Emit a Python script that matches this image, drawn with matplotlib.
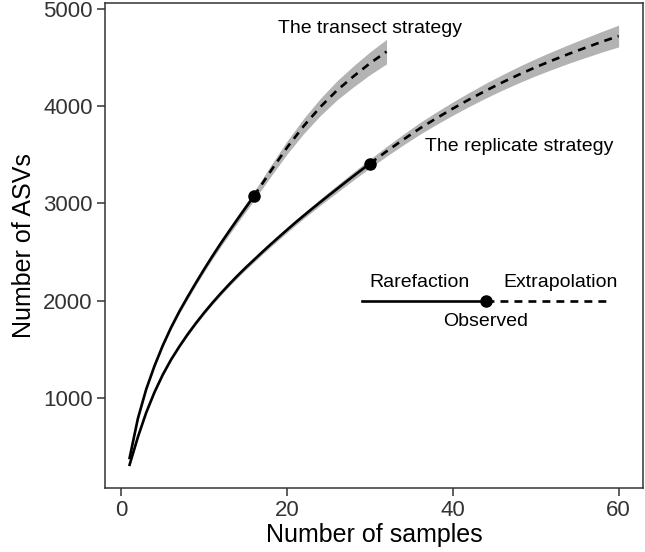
import matplotlib
matplotlib.use("Agg")
import matplotlib.pyplot as plt

plt.rcParams["font.family"] = ["Liberation Sans", "DejaVu Sans"]

# transect strategy (16 samples observed, extrapolated to 32)
tr_x_rare = list(range(1, 17))
tr_y_rare = [385, 790, 1090, 1330, 1540, 1725, 1890, 2040, 2185, 2325, 2460,
             2590, 2714, 2836, 2956, 3075]
tr_ci_rare = [10, 12, 14, 16, 18, 20, 22, 24, 26, 28, 30, 33, 36, 39, 42, 45]
tr_x_ext = [16, 18, 20, 22, 24, 26, 28, 30, 32]
tr_y_ext = [3075, 3330, 3575, 3795, 3990, 4160, 4305, 4440, 4560]
tr_ci_ext = [45, 56, 67, 78, 88, 98, 108, 117, 126]

# replicate strategy (30 samples observed, extrapolated to 60)
rp_x_rare = list(range(1, 31))
rp_y_rare = [315, 600, 850, 1060, 1240, 1395, 1530, 1655, 1770, 1878, 1980,
             2076, 2168, 2256, 2340, 2420, 2500, 2578, 2654, 2729, 2803, 2874,
             2944, 3013, 3081, 3148, 3215, 3281, 3346, 3410]
rp_ci_rare = [8, 9, 10, 11, 12, 13, 14, 15, 16, 17, 18, 19, 20, 21, 22, 23,
              24, 25, 26, 27, 28, 29, 31, 33, 35, 37, 39, 41, 43, 45]
rp_x_ext = [30, 32, 34, 36, 38, 40, 42, 44, 46, 48, 50, 52, 54, 56, 58, 60]
rp_y_ext = [3410, 3535, 3655, 3770, 3875, 3975, 4070, 4160, 4245, 4325, 4400,
            4470, 4537, 4600, 4662, 4720]
rp_ci_ext = [45, 50, 55, 60, 64, 68, 72, 76, 80, 84, 88, 92, 96, 101, 106, 112]

# hand-made key inside the panel
key_x = [29, 44, 59]
key_y = 2000


def main():
    fig = plt.figure(figsize=(6.45, 5.52), dpi=100)
    ax = fig.add_axes([0.163, 0.116, 0.834, 0.879])

    band = "#b3b3b3"
    lw = 1.9
    dash = (3.0, 2.3)
    curves = [
        (tr_x_rare, tr_y_rare, tr_ci_rare, tr_x_ext, tr_y_ext, tr_ci_ext),
        (rp_x_rare, rp_y_rare, rp_ci_rare, rp_x_ext, rp_y_ext, rp_ci_ext),
    ]
    for xr, yr, cr, xe, ye, ce in curves:
        ax.fill_between(xr, [y - c for y, c in zip(yr, cr)],
                        [y + c for y, c in zip(yr, cr)], color=band, lw=0)
        ax.fill_between(xe, [y - c for y, c in zip(ye, ce)],
                        [y + c for y, c in zip(ye, ce)], color=band, lw=0)
        ax.plot(xr, yr, color="black", lw=lw, solid_joinstyle="round")
        ax.plot(xe, ye, color="black", lw=lw, dashes=dash)
        ax.plot(xr[-1], yr[-1], "o", color="black", ms=8)

    ax.text(30, 4800, "The transect strategy", ha="center", va="center", fontsize=14)
    ax.text(48, 3590, "The replicate strategy", ha="center", va="center", fontsize=14)

    # key
    ax.plot(key_x[:2], [key_y, key_y], color="black", lw=lw)
    ax.plot(key_x[1:], [key_y, key_y], color="black", lw=lw, dashes=dash)
    ax.plot(key_x[1], key_y, "o", color="black", ms=8)
    ax.text(36, 2190, "Rarefaction", ha="center", va="center", fontsize=14)
    ax.text(53, 2190, "Extrapolation", ha="center", va="center", fontsize=14)
    ax.text(44, 1790, "Observed", ha="center", va="center", fontsize=14)

    ax.set_xlim(-1.95, 62.95)
    ax.set_ylim(77, 5062)
    ax.set_xticks([0, 20, 40, 60])
    ax.set_yticks([1000, 2000, 3000, 4000, 5000])
    ax.tick_params(length=6, width=1.1, color="#333333", labelcolor="#333333",
                   labelsize=16, pad=3)
    for s in ax.spines.values():
        s.set_linewidth(1.1)
        s.set_color("#333333")

    ax.set_xlabel("Number of samples", fontsize=18, labelpad=1)
    ax.set_ylabel("Number of ASVs", fontsize=18, labelpad=5)

    fig.savefig("out.png", dpi=100)


if __name__ == "__main__":
    main()
